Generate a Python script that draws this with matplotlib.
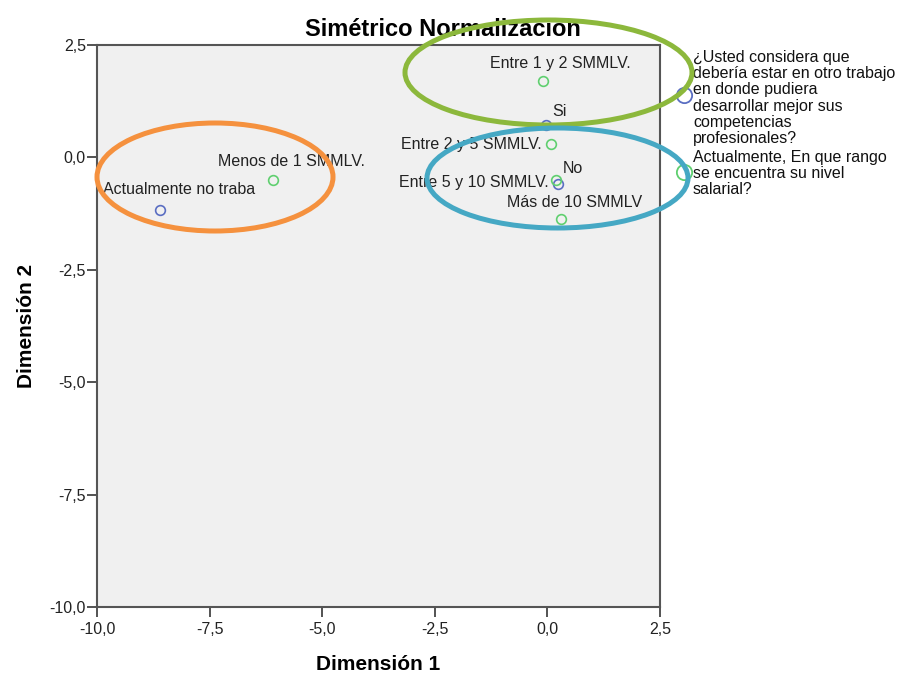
import matplotlib
matplotlib.use("Agg")
import matplotlib.pyplot as plt
from matplotlib.patches import Ellipse
from matplotlib.lines import Line2D
from matplotlib.ticker import FuncFormatter

plt.rcParams['font.family'] = ['Liberation Sans', 'DejaVu Sans']

# categoría, dim1, dim2, variable
cat_labels = ["Entre 1 y 2 SMMLV.", "Si", "Entre 2 y 5 SMMLV.", "No",
              "Entre 5 y 10 SMMLV.", "Más de 10 SMMLV", "Menos de 1 SMMLV.",
              "Actualmente no traba"]
dim1 = [-0.09, -0.04, 0.09, 0.24, 0.20, 0.31, -6.09, -8.60]
dim2 = [1.69, 0.71, 0.29, -0.60, -0.51, -1.36, -0.51, -1.16]
variable = ["salario", "otro", "salario", "otro",
            "salario", "salario", "salario", "otro"]

var_keys = ["otro", "salario"]
legend_labels = {
    "otro": "¿Usted considera que\ndebería estar en otro trabajo\nen donde pudiera\n"
            "desarrollar mejor sus\ncompetencias\nprofesionales?",
    "salario": "Actualmente, En que rango\nse encuentra su nivel\nsalarial?",
}
colores = {"otro": "#5a6ec2", "salario": "#5fcf6f"}

# desplazamiento de etiquetas (px), alineacion
offsets = [(17, 18, "center"), (7, 14, "left"), (-10, 0, "right"), (5, 16, "left"),
           (-8, -2, "right"), (13, 16, "center"), (18, 19, "center"), (19, 20, "center")]

fig = plt.figure(figsize=(9.01, 6.75), dpi=100)
ax = fig.add_axes([97/901, 68/675, 563/901, 562/675])
ax.set_facecolor("#f0f0f0")

for x, y, v in zip(dim1, dim2, variable):
    ax.plot(x, y, "o", mfc="none", mec=colores[v], ms=7, mew=1.2)

for lab, x, y, (dx, dy, ha) in zip(cat_labels, dim1, dim2, offsets):
    ax.annotate(lab, (x, y), xytext=(dx * 0.72, dy * 0.72), textcoords="offset points",
                ha=ha, va="center", fontsize=11.5, color="#222222")

ax.set_xlim(-10, 2.5)
ax.set_ylim(-10, 2.5)
ticks = [-10, -7.5, -5, -2.5, 0, 2.5]
ax.set_xticks(ticks)
ax.set_yticks(ticks)
fmt = FuncFormatter(lambda v, p: f"{v:.1f}".replace(".", ","))
ax.xaxis.set_major_formatter(fmt)
ax.yaxis.set_major_formatter(fmt)
ax.tick_params(direction="out", length=7, width=1.3, color="#444444",
               labelsize=11.5, labelcolor="#222222")
ax.tick_params(axis="y", pad=1)
ax.tick_params(axis="x", pad=4)
for s in ax.spines.values():
    s.set_color("#555555")
    s.set_linewidth(1.5)

ax.set_xlabel("Dimensión 1", fontsize=15, fontweight="bold", labelpad=13)
ax.set_ylabel("Dimensión 2", fontsize=15, fontweight="bold", labelpad=10)
fig.text(443/901, 1 - 29/675, "Simétrico Normalización", ha="center", va="center",
         fontsize=17, fontweight="bold")

# leyenda (fuera del area de trazado)
leg_pos = {"otro": (50, 95), "salario": (150, 172)}
for k in var_keys:
    ytop, ymark = leg_pos[k]
    fig.text(693/901, 1 - ytop/675, legend_labels[k], ha="left", va="top",
             fontsize=11.5, linespacing=1.1, color="#111111")
    fig.add_artist(Line2D([684/901], [1 - ymark/675], transform=fig.transFigure,
                          ls="none", marker="o", mfc="none", mec=colores[k],
                          ms=11, mew=1.3))

# elipses
for cx, cy, w, h, c in [(548.5, 72.5, 287, 105, "#8cb83c"),
                        (557.5, 178, 261, 100, "#45a8c4"),
                        (215, 177, 236, 108, "#f5913e")]:
    e = Ellipse((cx/901, 1 - cy/675), w/901, h/675, transform=fig.transFigure,
                fill=False, ec=c, lw=3.6, zorder=10)
    fig.add_artist(e)

fig.savefig("out.png", dpi=100)
